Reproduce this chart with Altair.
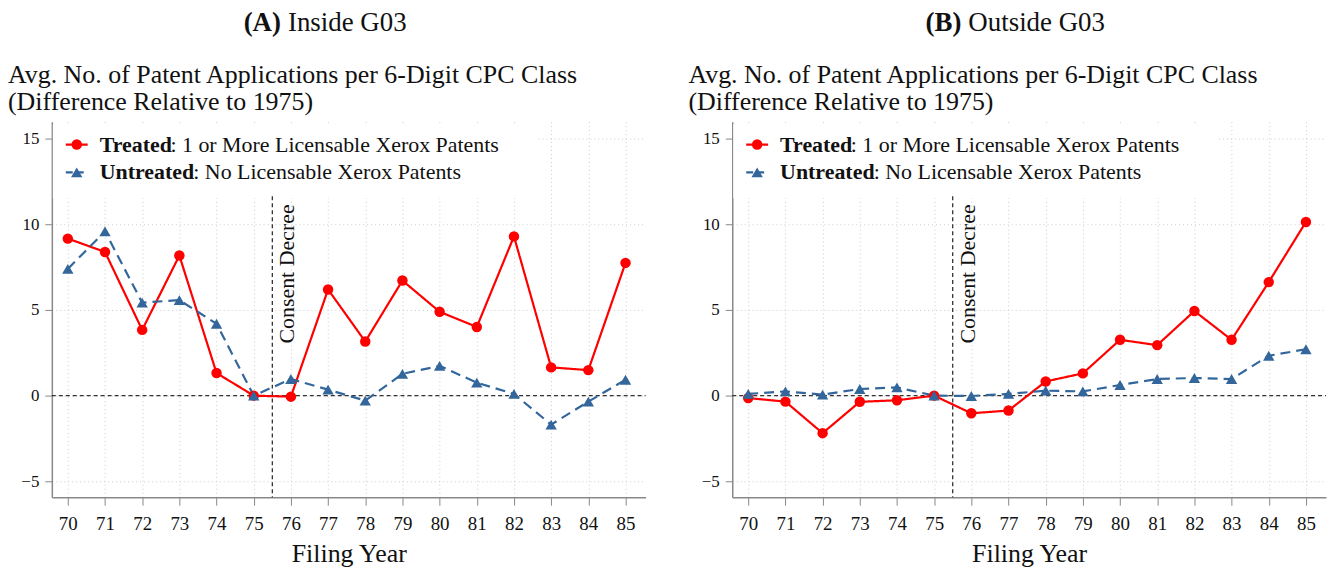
import altair as alt
import pandas as pd

years = list(range(70, 86))
inside_treated = [9.17, 8.39, 3.84, 8.18, 1.32, 0.0, -0.06, 6.2, 3.16, 6.72, 4.9, 4.01, 9.3, 1.65, 1.49, 7.75]
inside_untreated = [7.4, 9.59, 5.43, 5.58, 4.2, 0.0, 0.97, 0.35, -0.29, 1.27, 1.74, 0.76, 0.1, -1.69, -0.35, 0.93]
outside_treated = [-0.14, -0.35, -2.19, -0.36, -0.27, 0.0, -1.03, -0.87, 0.83, 1.3, 3.26, 2.95, 4.94, 3.26, 6.63, 10.14]
outside_untreated = [0.1, 0.25, 0.06, 0.39, 0.48, 0.0, -0.02, 0.1, 0.29, 0.25, 0.62, 0.97, 1.03, 0.97, 2.33, 2.71]

series_names = ["Treated", "Untreated"]
series_colors = ["#FF0000", "#33679B"]
panel_tags = ["(A)", "(B)"]
panel_names = ["Inside G03", "Outside G03"]
y_title_lines = ["Avg. No. of Patent Applications per 6-Digit CPC Class",
                 "(Difference Relative to 1975)"]
legend_bold = ["Treated", "Untreated"]
legend_rest = [": 1 or More Licensable Xerox Patents", ": No Licensable Xerox Patents"]
event_label = "Consent Decree"
event_x = [75.5]
zero_y = [0]
y_ticks = [-5, 0, 5, 10, 15]

FONT = "Liberation Serif"
W, H = 596, 377
X_DOMAIN = [69.57, 85.54]
Y_DOMAIN = [-5.93, 16.0]

XS = alt.Scale(domain=X_DOMAIN, nice=False, zero=False)
YS = alt.Scale(domain=Y_DOMAIN, nice=False, zero=False)
XAXIS = alt.Axis(values=years, format="d", title="Filing Year", grid=True,
                 gridDash=[1, 3], gridColor="#cccccc", labelFontSize=19,
                 titleFontSize=26, titlePadding=8, titleFontWeight="normal",
                 tickSize=8, labelPadding=9, labelFont=FONT, titleFont=FONT,
                 labelColor="#111", titleColor="#111", domainColor="#888",
                 tickColor="#888", labelOverlap=False, labelFlush=False)
YAXIS = alt.Axis(values=y_ticks, title=None, grid=True, gridDash=[1, 3],
                 gridColor="#cccccc", labelFontSize=17, tickSize=7,
                 labelPadding=6, labelFont=FONT, labelColor="#111",
                 domainColor="#888", tickColor="#888", labelOverlap=False)


def X(field):
    return alt.X(field, scale=XS, axis=XAXIS)


def Y(field):
    return alt.Y(field, scale=YS, axis=YAXIS)


def one():
    return alt.Chart(pd.DataFrame({"k": [0]}))


def panel(i, treated, untreated):
    df = pd.DataFrame({
        "year": years * 2,
        "value": treated + untreated,
        "series": [series_names[0]] * len(years) + [series_names[1]] * len(years),
    })
    color = alt.Color("series:N", scale=alt.Scale(domain=series_names, range=series_colors), legend=None)
    base = alt.Chart(df).encode(x=X("year:Q"), y=Y("value:Q"))

    box = one().mark_rect(fill="white").encode(
        x=alt.value(1), x2=alt.value(488), y=alt.value(3), y2=alt.value(77))

    zero = alt.Chart(pd.DataFrame({"value": zero_y})).mark_rule(
        color="#333", strokeDash=[4, 3], strokeWidth=1.2).encode(
        y=Y("value:Q"), x=alt.value(0), x2=alt.value(W))
    ev = alt.Chart(pd.DataFrame({"year": event_x}))
    vline = ev.mark_rule(color="#222", strokeDash=[4, 3], strokeWidth=1.2).encode(
        x=X("year:Q"), y=alt.value(75), y2=alt.value(H))
    vtext = ev.mark_text(angle=270, align="right", baseline="middle", font=FONT,
                         fontSize=22, color="#111", dx=-8, dy=15).encode(
        x=X("year:Q"), y=alt.value(75), text=alt.value(event_label))

    lines = base.mark_line(strokeWidth=2.2).encode(
        color=color,
        strokeDash=alt.StrokeDash("series:N", scale=alt.Scale(domain=series_names, range=[[1, 0], [10, 6]]), legend=None),
    )
    pts = base.mark_point(filled=True, opacity=1).encode(
        color=color,
        shape=alt.Shape("series:N", scale=alt.Scale(domain=series_names, range=["circle", "triangle-up"]), legend=None),
        size=alt.Size("series:N", scale=alt.Scale(domain=series_names, range=[110, 130]), legend=None),
    )

    layers = [box, zero, vline, vtext, lines, pts]

    for r in range(2):
        yy = 23 + 28 * r
        layers.append(one().mark_rule(color=series_colors[r], strokeWidth=2.2,
                                      strokeDash=[1, 0] if r == 0 else [7, 4]).encode(
            x=alt.value(14), x2=alt.value(36), y=alt.value(yy)))
        layers.append(one().mark_point(filled=True, opacity=1, size=[110, 130][r], color=series_colors[r],
                                       shape="circle" if r == 0 else "triangle-up").encode(
            x=alt.value(25), y=alt.value(yy)))
        layers.append(one().mark_text(align="left", baseline="middle", font=FONT, fontSize=22,
                                      fontWeight="bold", color="#111").encode(
            x=alt.value(48), y=alt.value(yy), text=alt.value(legend_bold[r])))
        layers.append(one().mark_text(align="left", baseline="middle", font=FONT, fontSize=22,
                                      color="#111", dx=[71, 94][r]).encode(
            x=alt.value(48), y=alt.value(yy), text=alt.value(legend_rest[r])))

    for k, line in enumerate(y_title_lines):
        layers.append(one().mark_text(align="left", baseline="alphabetic", font=FONT,
                                      fontSize=26, color="#111").encode(
            x=alt.value(-44), y=alt.value(-39 + 27 * k), text=alt.value(line)))

    layers.append(one().mark_text(align="right", baseline="alphabetic", font=FONT, fontSize=27,
                                  fontWeight="bold", color="#111").encode(
        x=alt.value(230), y=alt.value(-91), text=alt.value(panel_tags[i])))
    layers.append(one().mark_text(align="left", baseline="alphabetic", font=FONT, fontSize=27,
                                  color="#111").encode(
        x=alt.value(237), y=alt.value(-91), text=alt.value(panel_names[i])))

    return alt.layer(*layers).properties(width=W, height=H)


chart = alt.hconcat(
    panel(0, inside_treated, inside_untreated),
    panel(1, outside_treated, outside_untreated),
    spacing=42,
).properties(padding=0).configure_view(stroke=None).configure_axis(domainWidth=1.5)

chart.save("out.html", embed_options={"renderer": "svg", "actions": False})
